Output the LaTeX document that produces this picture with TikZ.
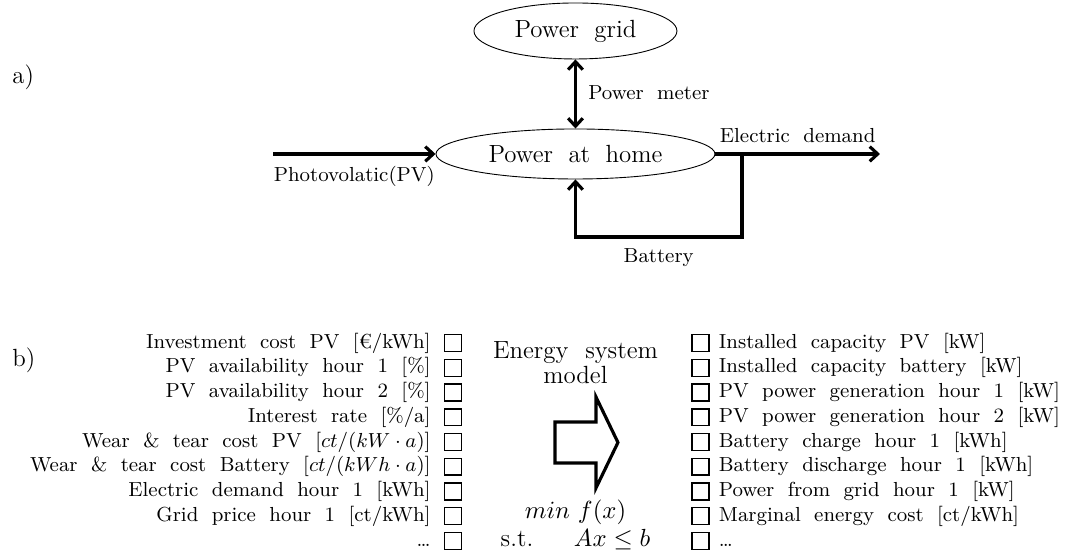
\documentclass[tikz,border=0pt]{standalone}
\usepackage{amsmath}
\usepackage{tikz}
\usetikzlibrary{shapes.geometric, arrows.meta, positioning}
\newcommand{\wordgap}[1]{\spaceskip=#1\relax}
\tikzset{
  bubble/.style={ellipse, draw, line width=0.4pt, inner sep=0pt,
    font=\fontsize{11}{13}\selectfont\wordgap{0.62em}},
  flow/.style={line width=1.4pt},
  smalltext/.style={font=\small\wordgap{0.66em}, inner sep=1pt,
    text height=6.8pt, text depth=2.3pt},
  bigtext/.style={font=\fontsize{11}{11}\selectfont\wordgap{0.68em}, inner sep=0pt},
  tickbox/.style={rectangle, draw, line width=0.65pt, minimum size=7.5pt,
    inner sep=0pt, outer sep=0pt},
  partlabel/.style={font=\fontsize{11}{13}\selectfont, anchor=west, inner sep=0pt},
  bigarrow/.style={line width=1.4pt}
}

\begin{document}
\begin{tikzpicture}[>={Straight Barb[length=3.5pt,width=6.5pt]}]
  \useasboundingbox (0,0) rectangle (16.688,8.585);
  % a) power flows at home
  \node[partlabel] (parta) at (0.187,7.387) {a)};
  \node[bubble, minimum width=3.157cm, minimum height=0.871cm] (grid) at (8.950,8.103) {Power grid};
  \node[bubble, minimum width=4.339cm, minimum height=0.778cm] (home) at (8.950,6.190) {Power at home};
  \coordinate (pv) at (4.246,6.190);
  \coordinate (demand) at (13.686,6.190);
  \coordinate (split) at (11.540,6.190);
  \draw[flow,<->] (grid.south) -- node[smalltext, midway, right=4pt] {Power meter} (home.north);
  \draw[flow,->] (pv) -- node[smalltext, midway, below=3.7pt] {Photovolatic(PV)} (home.west);
  \draw[flow,->] (home.east) -- node[smalltext, midway, above=0.9pt] {Electric demand} (demand);
  \draw[flow,->] (split) -- ++(0,-1.291) -| node[smalltext, pos=0.25, below=2.8pt] {Battery} (home.south);
  % b) model inputs
  \node[partlabel] (partb) at (0.187,2.986) {b)};
  \node[tickbox] (in1) at (7.045,3.250) {};
  \node[smalltext, left=5pt of in1] (inl1) {Investment cost PV [€/kWh]};
  \node[tickbox] (in2) at (7.045,2.865) {};
  \node[smalltext, left=5pt of in2] (inl2) {PV availability hour 1 [\%]};
  \node[tickbox] (in3) at (7.045,2.480) {};
  \node[smalltext, left=5pt of in3] (inl3) {PV availability hour 2 [\%]};
  \node[tickbox] (in4) at (7.045,2.095) {};
  \node[smalltext, left=5pt of in4] (inl4) {Interest rate [\%/a]};
  \node[tickbox] (in5) at (7.045,1.711) {};
  \node[smalltext, left=5pt of in5] (inl5) {Wear \& tear cost PV $[ct/(kW\cdot a)]$};
  \node[tickbox] (in6) at (7.045,1.326) {};
  \node[smalltext, left=5pt of in6] (inl6) {Wear \& tear cost Battery $[ct/(kWh\cdot a)]$};
  \node[tickbox] (in7) at (7.045,0.941) {};
  \node[smalltext, left=5pt of in7] (inl7) {Electric demand hour 1 [kWh]};
  \node[tickbox] (in8) at (7.045,0.556) {};
  \node[smalltext, left=5pt of in8] (inl8) {Grid price hour 1 [ct/kWh]};
  \node[tickbox] (in9) at (7.045,0.171) {};
  \node[smalltext, left=5pt of in9] (inl9) {\dots};
  % model
  \node[bigtext, align=center] (model) at (8.950,2.939) {Energy system\\model};
  \draw[bigarrow] (8.631,1.384) -- (9.269,1.384) -- (9.269,0.995) -- (9.611,1.703)
    -- (9.269,2.411) -- (9.269,2.022) -- (8.631,2.022) -- cycle;
  \node[bigtext, align=center, font=\fontsize{11}{12.5}\selectfont] (problem) at (8.950,0.418)
    {$min\ f(x)$\\s.t.\hspace{18pt}$Ax\leq b$};
  % model outputs
  \node[tickbox] (out1) at (10.894,3.250) {};
  \node[smalltext, right=3.2pt of out1] (outl1) {Installed capacity PV [kW]};
  \node[tickbox] (out2) at (10.894,2.865) {};
  \node[smalltext, right=3.2pt of out2] (outl2) {Installed capacity battery [kW]};
  \node[tickbox] (out3) at (10.894,2.480) {};
  \node[smalltext, right=3.2pt of out3] (outl3) {PV power generation hour 1 [kW]};
  \node[tickbox] (out4) at (10.894,2.095) {};
  \node[smalltext, right=3.2pt of out4] (outl4) {PV power generation hour 2 [kW]};
  \node[tickbox] (out5) at (10.894,1.711) {};
  \node[smalltext, right=3.2pt of out5] (outl5) {Battery charge hour 1 [kWh]};
  \node[tickbox] (out6) at (10.894,1.326) {};
  \node[smalltext, right=3.2pt of out6] (outl6) {Battery discharge hour 1 [kWh]};
  \node[tickbox] (out7) at (10.894,0.941) {};
  \node[smalltext, right=3.2pt of out7] (outl7) {Power from grid hour 1 [kW]};
  \node[tickbox] (out8) at (10.894,0.556) {};
  \node[smalltext, right=3.2pt of out8] (outl8) {Marginal energy cost [ct/kWh]};
  \node[tickbox] (out9) at (10.894,0.171) {};
  \node[smalltext, right=3.2pt of out9] (outl9) {\dots};
\end{tikzpicture}
\end{document}
